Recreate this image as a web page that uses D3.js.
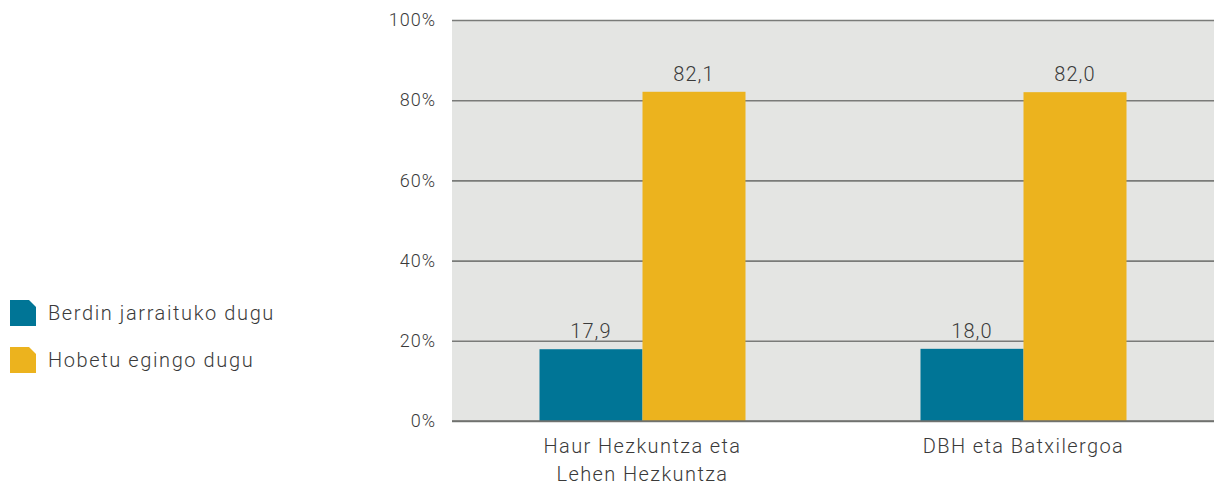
<!DOCTYPE html>
<html>
<head>
<meta charset="utf-8">
<script src="https://cdn.jsdelivr.net/npm/d3@7/dist/d3.min.js"></script>
<style>
  html, body { margin: 0; padding: 0; background: #fff; }
  svg { display: block; font-family: Roboto, "DejaVu Sans", sans-serif; }
</style>
</head>
<body>
<svg id="chart" width="1214" height="487"></svg>
<script>
const categories = [["Haur Hezkuntza eta", "Lehen Hezkuntza"], ["DBH eta Batxilergoa"]];
const seriesNames = ["Berdin jarraituko dugu", "Hobetu egingo dugu"];
const berdin = [17.9, 18.0];
const hobetu = [82.1, 82.0];
const yTicks = [0, 20, 40, 60, 80, 100];
const colors = ["#007596", "#ecb31e"];

const textColor = "#3a3a3a";
const svg = d3.select("#chart");
const margin = { left: 452, right: 0, top: 20, bottom: 66 };
const W = 1214, H = 487;
const iw = W - margin.left - margin.right;
const ih = H - margin.top - margin.bottom;

const g = svg.append("g").attr("transform", `translate(${margin.left},${margin.top})`);

const x0 = d3.scaleBand().domain(d3.range(categories.length)).range([0, iw]).padding(0);
const x1 = d3.scaleBand().domain(d3.range(seriesNames.length))
  .range([x0.bandwidth() / 2 - 103, x0.bandwidth() / 2 + 103]).padding(0);
const y = d3.scaleLinear().domain([0, 100]).range([ih, 0]);

// plot background
g.append("rect").attr("x", 0).attr("y", 0).attr("width", iw).attr("height", ih).attr("fill", "#e4e5e3");

// gridlines and y tick labels
const yAxis = d3.axisLeft(y).tickValues(yTicks).tickSize(-iw).tickFormat(d => d + "%").tickPadding(16);
const ya = g.append("g").call(yAxis);
ya.select(".domain").remove();
ya.selectAll(".tick line").attr("stroke", "#7a7b79").attr("stroke-width", 1.6);
ya.selectAll(".tick text").attr("fill", textColor).attr("font-size", 18)
  .attr("font-family", "Roboto, sans-serif").attr("font-weight", 300)
  .attr("letter-spacing", 1);

const series = [berdin, hobetu];
series.forEach((vals, s) => {
  const grp = g.append("g");
  grp.selectAll("rect").data(vals).enter().append("rect")
    .attr("x", (d, i) => x0(i) + x1(s))
    .attr("width", x1.bandwidth())
    .attr("y", d => y(d))
    .attr("height", d => ih - y(d))
    .attr("fill", colors[s]);
  grp.selectAll("text").data(vals).enter().append("text")
    .attr("x", (d, i) => x0(i) + x1(s) + x1.bandwidth() / 2)
    .attr("y", d => y(d) - 11)
    .attr("text-anchor", "middle")
    .attr("font-size", 20)
    .attr("font-weight", 300)
    .attr("letter-spacing", 1.1)
    .attr("fill", textColor)
    .text(d => d.toFixed(1).replace(".", ","));
});

// baseline
g.append("line").attr("x1", 0).attr("x2", iw).attr("y1", ih).attr("y2", ih)
  .attr("stroke", "#6e6f6d").attr("stroke-width", 1.6);

// category labels
categories.forEach((lines, i) => {
  const cx = x0(i) + x0.bandwidth() / 2;
  const t = g.append("text")
    .attr("x", cx)
    .attr("y", ih + 32)
    .attr("text-anchor", "middle")
    .attr("font-size", 20)
    .attr("font-weight", 300)
    .attr("letter-spacing", 1.4)
    .attr("fill", textColor);
  lines.forEach((ln, k) => {
    t.append("tspan").attr("x", cx).attr("dy", k === 0 ? 0 : 28).text(ln);
  });
});

// legend
const legend = svg.append("g").attr("transform", "translate(10,300)");
seriesNames.forEach((name, i) => {
  const ly = i * 47;
  const s = 26, c = 7;
  legend.append("path")
    .attr("d", `M0,${ly} L${s - c},${ly} L${s},${ly + c} L${s},${ly + s} L0,${ly + s} Z`)
    .attr("fill", colors[i]);
  legend.append("text")
    .attr("x", 38).attr("y", ly + s / 2 + 7)
    .attr("font-size", 20).attr("font-weight", 300).attr("letter-spacing", 1.6)
    .attr("fill", textColor)
    .text(name);
});
</script>
</body>
</html>
